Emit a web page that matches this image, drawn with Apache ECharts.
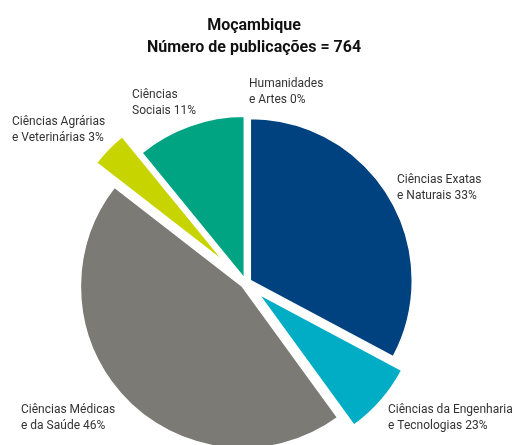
<!DOCTYPE html>
<html><head><meta charset="utf-8">
<script src="https://cdn.jsdelivr.net/npm/echarts@6/dist/echarts.min.js"></script>
<style>html,body{margin:0;padding:0;background:#fff}#c{width:514px;height:445px}</style>
</head><body><div id="c"></div>
<script>
// Data
var categories = ['Ciências Exatas e Naturais', 'Ciências da Engenharia e Tecnologias', 'Ciências Médicas e da Saúde', 'Ciências Agrárias e Veterinárias', 'Ciências Sociais', 'Humanidades e Artes'];
var labelTexts = ['Ciências Exatas\ne Naturais 33%', 'Ciências da Engenharia\ne Tecnologias 23%', 'Ciências Médicas\ne da Saúde 46%', 'Ciências Agrárias\ne Veterinárias 3%', 'Ciências\nSociais 11%', 'Humanidades\ne Artes 0%'];
var shares = [32.8, 7.2, 45.5, 3.6, 10.9, 0];
var colors = ['#00427f', '#00adc4', '#7b7a75', '#c8d400', '#00a482', '#9e9e9e'];
var titleText = 'Moçambique\nNúmero de publicações = 764';

// Layout (styles/positions)
var explodeGroup = [0, 1, 0, 2, 0, 0];
var groupOffsets = [5, 17, 30];
var labelPos = [[397, 188], [388, 418], [21, 418], [12, 130], [132, 103], [249, 92]];
var FONT = 'Roboto, "Liberation Sans", sans-serif';

var series = groupOffsets.map(function (off, g) {
  return {
    type: 'pie',
    center: [246, 283],
    radius: [0, 162],
    startAngle: 90,
    clockwise: true,
    avoidLabelOverlap: false,
    selectedMode: 'multiple',
    selectedOffset: off,
    animation: false,
    silent: true,
    stillShowZeroSum: true,
    labelLine: { show: false },
    label: { show: false },
    data: shares.map(function (v, i) {
      var visible = explodeGroup[i] === g;
      return {
        name: categories[i],
        value: v,
        selected: true,
        itemStyle: visible
          ? { color: colors[i], borderColor: '#ffffff', borderWidth: 1.5 }
          : { color: 'rgba(0,0,0,0)', borderWidth: 0 }
      };
    })
  };
});

var labelGraphics = labelTexts.map(function (t, i) {
  return {
    type: 'text',
    x: labelPos[i][0],
    y: labelPos[i][1],
    silent: true,
    style: {
      text: t,
      fill: '#333333',
      font: '12px ' + FONT,
      lineHeight: 16,
      textAlign: 'left',
      textVerticalAlign: 'middle'
    }
  };
});

var chart = echarts.init(document.getElementById('c'), null, { renderer: 'canvas' });
chart.setOption({
  backgroundColor: '#ffffff',
  title: {
    text: titleText,
    left: 249,
    textAlign: 'center',
    top: 10,
    textStyle: { fontFamily: FONT, fontWeight: 'bold', fontSize: 16, lineHeight: 22, color: '#111111' }
  },
  graphic: labelGraphics,
  series: series
});
</script>
</body></html>
